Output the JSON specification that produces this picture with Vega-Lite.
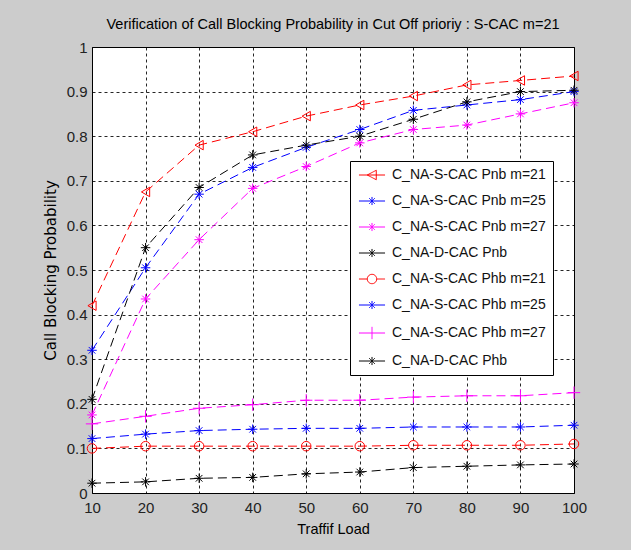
{
  "$schema": "https://vega.github.io/schema/vega-lite/v6.json",
  "autosize": "none",
  "width": 482,
  "height": 446,
  "padding": {"left": 92, "top": 47, "right": 57, "bottom": 57},
  "background": "#cccccc",
  "title": {"text": "Verification of Call Blocking Probability in Cut Off prioriy : S-CAC m=21", "font": "Liberation Sans", "fontSize": 14.5, "fontWeight": "normal", "color": "#000", "offset": 8, "anchor": "middle"},
  "config": {
    "view": {"fill": "white", "stroke": "black", "strokeWidth": 1},
    "axis": {"labelFont": "Liberation Sans", "labelFontSize": 15, "labelColor": "#222", "labelFlush": false, "titleFont": "Liberation Sans", "titleFontSize": 14.5, "titleFontWeight": "normal", "titleColor": "#000", "grid": true, "gridColor": "#000", "gridDash": [3, 3], "gridOpacity": 0.85, "domain": false, "ticks": false}
  },
  "data": {"values": [
    {"load": 10, "p": 0.42, "series": "C_NA-S-CAC Pnb m=21"},
    {"load": 20, "p": 0.675, "series": "C_NA-S-CAC Pnb m=21"},
    {"load": 30, "p": 0.78, "series": "C_NA-S-CAC Pnb m=21"},
    {"load": 40, "p": 0.81, "series": "C_NA-S-CAC Pnb m=21"},
    {"load": 50, "p": 0.845, "series": "C_NA-S-CAC Pnb m=21"},
    {"load": 60, "p": 0.87, "series": "C_NA-S-CAC Pnb m=21"},
    {"load": 70, "p": 0.89, "series": "C_NA-S-CAC Pnb m=21"},
    {"load": 80, "p": 0.915, "series": "C_NA-S-CAC Pnb m=21"},
    {"load": 90, "p": 0.925, "series": "C_NA-S-CAC Pnb m=21"},
    {"load": 100, "p": 0.935, "series": "C_NA-S-CAC Pnb m=21"},
    {"load": 10, "p": 0.32, "series": "C_NA-S-CAC Pnb m=25"},
    {"load": 20, "p": 0.505, "series": "C_NA-S-CAC Pnb m=25"},
    {"load": 30, "p": 0.67, "series": "C_NA-S-CAC Pnb m=25"},
    {"load": 40, "p": 0.73, "series": "C_NA-S-CAC Pnb m=25"},
    {"load": 50, "p": 0.775, "series": "C_NA-S-CAC Pnb m=25"},
    {"load": 60, "p": 0.815, "series": "C_NA-S-CAC Pnb m=25"},
    {"load": 70, "p": 0.858, "series": "C_NA-S-CAC Pnb m=25"},
    {"load": 80, "p": 0.87, "series": "C_NA-S-CAC Pnb m=25"},
    {"load": 90, "p": 0.882, "series": "C_NA-S-CAC Pnb m=25"},
    {"load": 100, "p": 0.9, "series": "C_NA-S-CAC Pnb m=25"},
    {"load": 10, "p": 0.175, "series": "C_NA-S-CAC Pnb m=27"},
    {"load": 20, "p": 0.435, "series": "C_NA-S-CAC Pnb m=27"},
    {"load": 30, "p": 0.568, "series": "C_NA-S-CAC Pnb m=27"},
    {"load": 40, "p": 0.683, "series": "C_NA-S-CAC Pnb m=27"},
    {"load": 50, "p": 0.732, "series": "C_NA-S-CAC Pnb m=27"},
    {"load": 60, "p": 0.785, "series": "C_NA-S-CAC Pnb m=27"},
    {"load": 70, "p": 0.815, "series": "C_NA-S-CAC Pnb m=27"},
    {"load": 80, "p": 0.825, "series": "C_NA-S-CAC Pnb m=27"},
    {"load": 90, "p": 0.85, "series": "C_NA-S-CAC Pnb m=27"},
    {"load": 100, "p": 0.875, "series": "C_NA-S-CAC Pnb m=27"},
    {"load": 10, "p": 0.21, "series": "C_NA-D-CAC Pnb"},
    {"load": 20, "p": 0.55, "series": "C_NA-D-CAC Pnb"},
    {"load": 30, "p": 0.685, "series": "C_NA-D-CAC Pnb"},
    {"load": 40, "p": 0.758, "series": "C_NA-D-CAC Pnb"},
    {"load": 50, "p": 0.78, "series": "C_NA-D-CAC Pnb"},
    {"load": 60, "p": 0.8, "series": "C_NA-D-CAC Pnb"},
    {"load": 70, "p": 0.838, "series": "C_NA-D-CAC Pnb"},
    {"load": 80, "p": 0.877, "series": "C_NA-D-CAC Pnb"},
    {"load": 90, "p": 0.9, "series": "C_NA-D-CAC Pnb"},
    {"load": 100, "p": 0.903, "series": "C_NA-D-CAC Pnb"},
    {"load": 10, "p": 0.1, "series": "C_NA-S-CAC Phb m=21"},
    {"load": 20, "p": 0.105, "series": "C_NA-S-CAC Phb m=21"},
    {"load": 30, "p": 0.105, "series": "C_NA-S-CAC Phb m=21"},
    {"load": 40, "p": 0.105, "series": "C_NA-S-CAC Phb m=21"},
    {"load": 50, "p": 0.105, "series": "C_NA-S-CAC Phb m=21"},
    {"load": 60, "p": 0.105, "series": "C_NA-S-CAC Phb m=21"},
    {"load": 70, "p": 0.107, "series": "C_NA-S-CAC Phb m=21"},
    {"load": 80, "p": 0.107, "series": "C_NA-S-CAC Phb m=21"},
    {"load": 90, "p": 0.107, "series": "C_NA-S-CAC Phb m=21"},
    {"load": 100, "p": 0.11, "series": "C_NA-S-CAC Phb m=21"},
    {"load": 10, "p": 0.122, "series": "C_NA-S-CAC Phb m=25"},
    {"load": 20, "p": 0.132, "series": "C_NA-S-CAC Phb m=25"},
    {"load": 30, "p": 0.14, "series": "C_NA-S-CAC Phb m=25"},
    {"load": 40, "p": 0.143, "series": "C_NA-S-CAC Phb m=25"},
    {"load": 50, "p": 0.145, "series": "C_NA-S-CAC Phb m=25"},
    {"load": 60, "p": 0.145, "series": "C_NA-S-CAC Phb m=25"},
    {"load": 70, "p": 0.148, "series": "C_NA-S-CAC Phb m=25"},
    {"load": 80, "p": 0.148, "series": "C_NA-S-CAC Phb m=25"},
    {"load": 90, "p": 0.148, "series": "C_NA-S-CAC Phb m=25"},
    {"load": 100, "p": 0.152, "series": "C_NA-S-CAC Phb m=25"},
    {"load": 10, "p": 0.155, "series": "C_NA-S-CAC Phb m=27"},
    {"load": 20, "p": 0.172, "series": "C_NA-S-CAC Phb m=27"},
    {"load": 30, "p": 0.19, "series": "C_NA-S-CAC Phb m=27"},
    {"load": 40, "p": 0.198, "series": "C_NA-S-CAC Phb m=27"},
    {"load": 50, "p": 0.208, "series": "C_NA-S-CAC Phb m=27"},
    {"load": 60, "p": 0.208, "series": "C_NA-S-CAC Phb m=27"},
    {"load": 70, "p": 0.215, "series": "C_NA-S-CAC Phb m=27"},
    {"load": 80, "p": 0.218, "series": "C_NA-S-CAC Phb m=27"},
    {"load": 90, "p": 0.218, "series": "C_NA-S-CAC Phb m=27"},
    {"load": 100, "p": 0.225, "series": "C_NA-S-CAC Phb m=27"},
    {"load": 10, "p": 0.022, "series": "C_NA-D-CAC Phb"},
    {"load": 20, "p": 0.025, "series": "C_NA-D-CAC Phb"},
    {"load": 30, "p": 0.033, "series": "C_NA-D-CAC Phb"},
    {"load": 40, "p": 0.035, "series": "C_NA-D-CAC Phb"},
    {"load": 50, "p": 0.043, "series": "C_NA-D-CAC Phb"},
    {"load": 60, "p": 0.047, "series": "C_NA-D-CAC Phb"},
    {"load": 70, "p": 0.057, "series": "C_NA-D-CAC Phb"},
    {"load": 80, "p": 0.06, "series": "C_NA-D-CAC Phb"},
    {"load": 90, "p": 0.063, "series": "C_NA-D-CAC Phb"},
    {"load": 100, "p": 0.065, "series": "C_NA-D-CAC Phb"}
  ]},
  "encoding": {
    "x": {"field": "load", "type": "quantitative", "scale": {"domain": [10, 100], "nice": false}, "axis": {"values": [10, 20, 30, 40, 50, 60, 70, 80, 90, 100], "title": "Traffif Load", "labelPadding": 7, "titlePadding": 7}},
    "y": {"field": "p", "type": "quantitative", "scale": {"domain": [0, 1], "nice": false}, "axis": {"values": [0, 0.1, 0.2, 0.3, 0.4, 0.5, 0.6, 0.7, 0.8, 0.9, 1], "format": ".1~f", "title": "Call Blocking Probability", "titleFont": "DejaVu Sans", "titleFontSize": 15, "labelPadding": 5, "titlePadding": 8}}
  },
  "layer": [
    {
      "mark": {"type": "line", "strokeWidth": 1, "strokeDash": [9, 5]},
      "encoding": {
        "order": {"field": "load", "type": "quantitative"},
        "color": {"field": "series", "type": "nominal", "scale": {"domain": ["C_NA-S-CAC Pnb m=21", "C_NA-S-CAC Pnb m=25", "C_NA-S-CAC Pnb m=27", "C_NA-D-CAC Pnb", "C_NA-S-CAC Phb m=21", "C_NA-S-CAC Phb m=25", "C_NA-S-CAC Phb m=27", "C_NA-D-CAC Phb"], "range": ["#ff0000", "#0000ff", "#ff00ff", "#000000", "#ff0000", "#0000ff", "#ff00ff", "#000000"]}}
      }
    },
    {
      "transform": [{"filter": "datum.series === 'C_NA-S-CAC Pnb m=21'"}],
      "mark": {"type": "point", "shape": "triangle-left", "filled": false, "size": 90, "strokeWidth": 1, "opacity": 1},
      "encoding": {"color": {"field": "series", "type": "nominal"}}
    },
    {
      "transform": [{"filter": "datum.series === 'C_NA-S-CAC Phb m=21'"}],
      "mark": {"type": "point", "shape": "circle", "filled": false, "size": 90, "strokeWidth": 1, "opacity": 1},
      "encoding": {"color": {"field": "series", "type": "nominal"}}
    },
    {
      "transform": [{"filter": "datum.series === 'C_NA-S-CAC Phb m=27'"}],
      "mark": {"type": "point", "shape": "M-1.3,0L1.3,0M0,-1.3L0,1.3", "filled": false, "size": 90, "strokeWidth": 1, "opacity": 1},
      "encoding": {"color": {"field": "series", "type": "nominal"}}
    },
    {
      "transform": [{"filter": "datum.series !== 'C_NA-S-CAC Pnb m=21' && datum.series !== 'C_NA-S-CAC Phb m=21' && datum.series !== 'C_NA-S-CAC Phb m=27'"}],
      "mark": {"type": "point", "shape": "M-1,0L1,0M0,-1L0,1M-0.7,-0.7L0.7,0.7M-0.7,0.7L0.7,-0.7", "filled": false, "size": 90, "strokeWidth": 1, "opacity": 1},
      "encoding": {"color": {"field": "series", "type": "nominal", "legend": {
          "title": null, "orient": "none", "legendX": 258, "legendY": 114,
          "fillColor": "white", "strokeColor": "black", "padding": 7,
          "symbolSize": 90, "symbolStrokeWidth": 1, "symbolOffset": 8, "symbolFillColor": "transparent", "symbolDash": [1, 0],
          "symbolType": {"expr": "datum.value === 'C_NA-S-CAC Pnb m=21' ? 'M-2.75,0L2.75,0M-1,0L0.9,-1L0.9,1Z' : datum.value === 'C_NA-S-CAC Phb m=21' ? 'M-2.75,0L-1,0M1,0L2.75,0M1,0L0.924,0.383L0.707,0.707L0.383,0.924L0,1L-0.383,0.924L-0.707,0.707L-0.924,0.383L-1,0L-0.924,-0.383L-0.707,-0.707L-0.383,-0.924L0,-1L0.383,-0.924L0.707,-0.707L0.924,-0.383Z' : datum.value === 'C_NA-S-CAC Phb m=27' ? 'M-2.75,0L2.75,0M0,-1.3L0,1.3' : 'M-2.75,0L2.75,0M0,-0.85L0,0.85M-0.6,-0.6L0.6,0.6M-0.6,0.6L0.6,-0.6'"},
          "labelFont": "Liberation Sans", "labelFontSize": 14, "labelColor": "#111", "labelOffset": 13, "labelLimit": 300, "rowPadding": 12,
          "encode": {"symbols": {"update": {
            "fill": {"value": "transparent"},
            "strokeDash": {"value": [1, 0]}
          }}}
        }}}
    }
  ]
}
